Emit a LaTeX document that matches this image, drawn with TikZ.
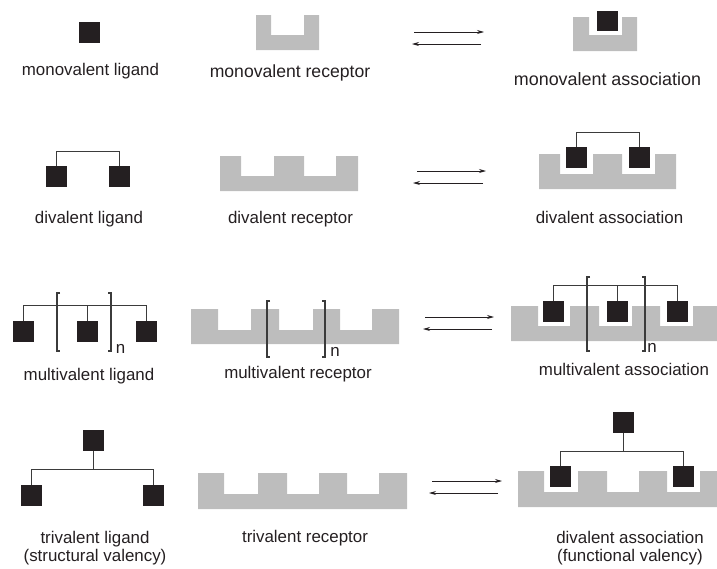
\documentclass[tikz,border=0pt]{standalone}
\usepackage{fontspec}
\setmainfont{Liberation Sans}
\usetikzlibrary{arrows.meta}

\tikzset{
  lig/.style={fill=mycolor231F20,draw=none,minimum width=21pt,minimum height=21pt,inner sep=0,outer sep=0},
  lbl/.style={text=mycolor231F20,anchor=base,inner sep=0.0,font=\fontsize{16.9}{20}\selectfont},
  biglbl/.style={lbl,font=\fontsize{17.6}{21}\selectfont},
  link/.style={draw=mycolor3A3A3A,line width=0.9pt},
  brk/.style={draw=mycolor3A3A3A,line width=1.1pt},
  rxn/.style={draw=mycolor231F20,line width=0.8pt,-{Stealth[length=7pt,width=4pt]}},
  rec/.style={fill=mycolorBDBDBD}
}

\begin{document}
\begin{tikzpicture}[x=1pt,y=-1pt]
\definecolor{mycolor231F20}{rgb}{0.14,0.12,0.13}
\definecolor{mycolor3A3A3A}{rgb}{0.23,0.23,0.23}
\definecolor{mycolorBDBDBD}{rgb}{0.74,0.74,0.74}
\useasboundingbox (0,0) rectangle (717,568);
% monovalent
\begin{scope}
\node [lig] (mlig) at (89,32.5) {};
\node [lbl] (mligt) at (90.5,75) {monovalent ligand};
\path [rec] (256,15) -- (271,15) -- (271,35) -- (304,35) -- (304,15) -- (319,15) -- (319,50) -- (256,50) -- cycle;
\node [biglbl] (mrect) at (290,77) {monovalent receptor};
\coordinate (m1a) at (414,32);
\coordinate (m1b) at (484,32);
\coordinate (m2a) at (481,44);
\coordinate (m2b) at (412,44);
\draw [rxn] (m1a) -- (m1b);
\draw [rxn] (m2a) -- (m2b);
\path [rec] (573,17) -- (589,17) -- (589,35) -- (622,35) -- (622,17) -- (637,17) -- (637,51) -- (573,51) -- cycle;
\node [lig,minimum height=20pt] (masq) at (607,20.5) {};
\node [biglbl,font=\fontsize{17.9}{21}\selectfont] (masst) at (607.5,85) {monovalent association};
\end{scope}
% divalent
\begin{scope}
\node [lig] (dlig1) at (56.5,176) {};
\node [lig] (dlig2) at (119.5,176) {};
\draw [link] (dlig1.north) -- ++(0,-14) -| (dlig2.north);
\node [lbl] (dligt) at (89,223) {divalent ligand};
\path [rec] (220,156) -- (241,156) -- (241,176) -- (274,176) -- (274,156) -- (304,156) -- (304,176) -- (336,176) -- (336,156) -- (358,156) -- (358,191) -- (220,191) -- cycle;
\node [lbl] (drect) at (290.5,223) {divalent receptor};
\coordinate (d1a) at (417,171);
\coordinate (d1b) at (486,171);
\coordinate (d2a) at (483,183);
\coordinate (d2b) at (413,183);
\draw [rxn] (d1a) -- (d1b);
\draw [rxn] (d2a) -- (d2b);
\path [rec] (539,154) -- (560,154) -- (560,174) -- (593,174) -- (593,154) -- (622,154) -- (622,174) -- (655,174) -- (655,154) -- (676,154) -- (676,189) -- (539,189) -- cycle;
\node [lig] (dasq1) at (576.5,157) {};
\node [lig] (dasq2) at (639,157) {};
\draw [link] (dasq1.north) -- ++(0,-14) -| (dasq2.north);
\node [lbl] (dasst) at (609.5,223) {divalent association};
\end{scope}
% multivalent
\begin{scope}
\node [lig] (mvlig1) at (23.5,331.5) {};
\node [lig] (mvlig2) at (87.5,331.5) {};
\node [lig] (mvlig3) at (146.5,331.5) {};
\draw [link] (mvlig1.north) -- ++(0,-16) -| (mvlig3.north);
\draw [link] (mvlig2.north) -- ++(0,-16);
\draw [brk] (60,293) -- (57,293) -- (57,351) -- (60,351);
\draw [brk] (108,293) -- (111,293) -- (111,351) -- (108,351);
\node [lbl] (mvlign) at (120.5,353) {n};
\node [lbl] (mvligt) at (89,380) {multivalent ligand};
\path [rec] (191,309) -- (218,309) -- (218,330) -- (251,330) -- (251,309) -- (279,309) -- (279,330) -- (313,330) -- (313,309) -- (340,309) -- (340,330) -- (372,330) -- (372,309) -- (399,309) -- (399,344) -- (191,344) -- cycle;
\draw [brk] (270,301) -- (267,301) -- (267,357) -- (270,357);
\draw [brk] (322,301) -- (325,301) -- (325,357) -- (322,357);
\node [lbl] (mvrecn) at (335,356) {n};
\node [lbl] (mvrect) at (298,378) {multivalent receptor};
\coordinate (mv1a) at (425,317);
\coordinate (mv1b) at (494,317);
\coordinate (mv2a) at (492,329);
\coordinate (mv2b) at (423,329);
\draw [rxn] (mv1a) -- (mv1b);
\draw [rxn] (mv2a) -- (mv2b);
\path [rec] (511,306) -- (538,306) -- (538,326) -- (570,326) -- (570,306) -- (599,306) -- (599,326) -- (632,326) -- (632,306) -- (660,306) -- (660,326) -- (693,326) -- (693,306) -- (717,306) -- (717,341) -- (511,341) -- cycle;
\node [lig] (mvasq1) at (553.5,311.5) {};
\node [lig] (mvasq2) at (617.5,311.5) {};
\node [lig] (mvasq3) at (677.5,311.5) {};
\draw [link] (mvasq1.north) -- ++(0,-16) -| (mvasq3.north);
\draw [link] (mvasq2.north) -- ++(0,-16);
\draw [brk] (590,277) -- (587,277) -- (587,351) -- (590,351);
\draw [brk] (642,277) -- (645,277) -- (645,351) -- (642,351);
\node [lbl] (mvassn) at (652,352) {n};
\node [lbl] (mvasst) at (624,375) {multivalent association};
\end{scope}
% trivalent
\begin{scope}
\node [lig] (tlig0) at (93.5,440.5) {};
\node [lig] (tlig1) at (31,495) {};
\node [lig] (tlig2) at (153.5,495) {};
\draw [link] (tlig1.north) -- ++(0,-15) -| (tlig2.north);
\draw [link] (tlig0.south) -- ++(0,18);
\node [lbl] (tligt) at (95,543) {trivalent ligand};
\node [lbl] (tligs) at (95,561) {(structural valency)};
\path [rec] (198,473) -- (224,473) -- (224,494) -- (258,494) -- (258,473) -- (287,473) -- (287,494) -- (319,494) -- (319,473) -- (347,473) -- (347,494) -- (379,494) -- (379,473) -- (407,473) -- (407,509) -- (198,509) -- cycle;
\node [lbl] (trect) at (305,542) {trivalent receptor};
\coordinate (t1a) at (432,481);
\coordinate (t1b) at (502,481);
\coordinate (t2a) at (498,493);
\coordinate (t2b) at (429,493);
\draw [rxn] (t1a) -- (t1b);
\draw [rxn] (t2a) -- (t2b);
\path [rec] (518,471) -- (544,471) -- (544,492) -- (578,492) -- (578,471) -- (607,471) -- (607,492) -- (639,492) -- (639,471) -- (667,471) -- (667,492) -- (700,492) -- (700,471) -- (717,471) -- (717,507) -- (518,507) -- cycle;
\node [lig] (fasq0) at (623.5,422) {};
\node [lig] (fasq1) at (560,476.5) {};
\node [lig] (fasq2) at (683.5,476.5) {};
\draw [link] (fasq1.north) -- ++(0,-15) -| (fasq2.north);
\draw [link] (fasq0.south) -- ++(0,18.5);
\node [lbl] (fasst) at (630,543) {divalent association};
\node [lbl] (fassf) at (630,561) {(functional valency)};
\end{scope}
\end{tikzpicture}
\end{document}
